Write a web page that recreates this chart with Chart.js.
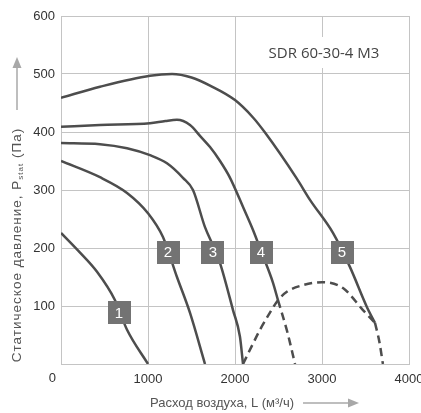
<!DOCTYPE html>
<html>
<head>
<meta charset="utf-8">
<script src="https://cdn.jsdelivr.net/npm/chart.js@4.4.1/dist/chart.umd.min.js"></script>
<style>
  html, body { margin: 0; padding: 0; background: #fff; }
  #wrap { width: 421px; height: 413px; }
</style>
</head>
<body>
<div id="wrap"><canvas id="chart" width="421" height="413"></canvas></div>
<script>
// fan curves, x = airflow (m3/h), y = static pressure (Pa)
var curve1X = [0, 200, 414, 621, 759, 1000];
var curve1Y = [226, 195, 159, 110, 59, 0];

var curve2X = [0, 448, 759, 1000, 1172, 1333, 1483, 1655];
var curve2Y = [350, 322, 295, 260, 219, 150, 88, 0];

var curve3X = [0, 448, 759, 1023, 1218, 1402, 1517, 1655, 1760, 1828, 1977, 2057, 2092];
var curve3Y = [381, 379, 372, 360, 346, 321, 300, 236, 200, 174, 93, 47, 0];

var curve4X = [0, 448, 1023, 1200, 1333, 1483, 1600, 1713, 1828, 1943, 2100, 2207, 2299, 2437, 2494];
var curve4Y = [409, 412, 415, 419, 421, 412, 393, 374, 350, 321, 268, 231, 195, 140, 110];
var curve4TailX = [2494, 2600, 2690];
var curve4TailY = [110, 56, 0];

var curve5X = [0, 448, 1023, 1276, 1500, 1713, 2000, 2207, 2345, 2709, 2862, 3126, 3322, 3517, 3609];
var curve5Y = [459, 478, 497, 500, 494, 480, 455, 425, 399, 320, 283, 226, 167, 98, 71];
var curve5TailX = [3609, 3660, 3700];
var curve5TailY = [71, 38, 0];

var limitX = [2092, 2200, 2287, 2400, 2494, 2600, 2782, 3000, 3241, 3471, 3609];
var limitY = [0, 33, 59, 88, 110, 125, 136, 141, 131, 93, 71];

var curveNames = ["1", "2", "3", "4", "5"];
var nameX = [667, 1230, 1747, 2299, 3230];
var nameY = [88, 193, 193, 193, 193];

var xTicks = [0, 1000, 2000, 3000, 4000];
var yTicks = [0, 100, 200, 300, 400, 500, 600];

var chartTitle = "SDR 60-30-4 M3";
var xTitle = "Расход воздуха, L (м³/ч)";
var yTitleMain = "Статическое давление, P";
var yTitleSub = "stat";
var yTitleEnd = " (Па)";

var lineColor = "#4d4d4d";
var gridColor = "#c4c4c4";
var textFont = "'Liberation Sans', Arial, sans-serif";

function pts(xs, ys) {
	return xs.map(function (x, i) { return { x: x, y: ys[i] }; });
}

function curve(xs, ys, dashed) {
	return {
		data : pts(xs, ys),
		borderColor : lineColor,
		borderWidth : 2.5,
		borderDash : dashed ? [8, 5] : [],
		pointRadius : 0,
		fill : false,
		cubicInterpolationMode : "monotone"
	};
}

function arrow(ctx, x1, y1, x2, y2) {
	var a = Math.atan2(y2 - y1, x2 - x1);
	ctx.save();
	ctx.strokeStyle = "#a8a8a8";
	ctx.fillStyle = "#a8a8a8";
	ctx.lineWidth = 1.5;
	ctx.beginPath();
	ctx.moveTo(x1, y1);
	ctx.lineTo(x2 - 8 * Math.cos(a), y2 - 8 * Math.sin(a));
	ctx.stroke();
	ctx.translate(x2, y2);
	ctx.rotate(a);
	ctx.beginPath();
	ctx.moveTo(0, 0);
	ctx.lineTo(-11, -4.5);
	ctx.lineTo(-11, 4.5);
	ctx.closePath();
	ctx.fill();
	ctx.restore();
}

var extras = {
	id : "extras",
	afterDatasetsDraw : function (chart) {
		var ctx = chart.ctx;
		var xs = chart.scales.x, ys = chart.scales.y;

		// curve number boxes
		ctx.save();
		ctx.font = "15px " + textFont;
		ctx.textAlign = "center";
		ctx.textBaseline = "middle";
		curveNames.forEach(function (n, i) {
			var px = xs.getPixelForValue(nameX[i]);
			var py = ys.getPixelForValue(nameY[i]);
			ctx.fillStyle = "#737373";
			ctx.fillRect(Math.round(px - 11.5), Math.round(py - 11.5), 23, 23);
			ctx.fillStyle = "#ffffff";
			ctx.fillText(n, px, py + 1);
		});
		ctx.restore();

		// model name with white backing
		ctx.save();
		ctx.font = "15px 'Open Sans', sans-serif";
		var tw = ctx.measureText(chartTitle).width;
		var tx = 324, ty = 54;
		ctx.fillStyle = "#ffffff";
		ctx.fillRect(tx - tw / 2 - 5, 37, tw + 10, 31);
		ctx.fillStyle = "#444444";
		ctx.textAlign = "center";
		ctx.textBaseline = "middle";
		ctx.fillText(chartTitle, tx, ty);
		ctx.restore();
	},
	afterDraw : function (chart) {
		var ctx = chart.ctx;
		var area = chart.chartArea;

		// shared origin label
		ctx.save();
		ctx.font = "13px " + textFont;
		ctx.fillStyle = "#333333";
		ctx.textAlign = "right";
		ctx.textBaseline = "middle";
		ctx.fillText("0", area.left - 5, area.bottom + 14);
		ctx.restore();

		// x axis title + arrow
		ctx.save();
		ctx.font = "13px " + textFont;
		ctx.fillStyle = "#555555";
		ctx.textAlign = "left";
		ctx.textBaseline = "middle";
		ctx.fillText(xTitle, 150, 403);
		var xw = ctx.measureText(xTitle).width;
		ctx.restore();
		arrow(ctx, 150 + xw + 9, 403, 359, 403);

		// y axis title with subscript
		ctx.save();
		ctx.translate(17, 245);
		ctx.rotate(-Math.PI / 2);
		ctx.fillStyle = "#555555";
		ctx.textBaseline = "middle";
		ctx.letterSpacing = "1px";
		ctx.font = "13.5px " + textFont;
		var w1 = ctx.measureText(yTitleMain).width;
		var w3 = ctx.measureText(yTitleEnd).width;
		ctx.font = "8px " + textFont;
		var w2 = ctx.measureText(yTitleSub).width;
		var start = -(w1 + w2 + w3) / 2;
		ctx.font = "13.5px " + textFont;
		ctx.fillText(yTitleMain, start, 0);
		ctx.font = "8px " + textFont;
		ctx.fillText(yTitleSub, start + w1, 4);
		ctx.font = "13.5px " + textFont;
		ctx.fillText(yTitleEnd, start + w1 + w2, 0);
		ctx.restore();
		arrow(ctx, 17, 110, 17, 57);
	}
};

var chart = new Chart(document.getElementById("chart"), {
	type : "line",
	data : {
		datasets : [
			curve(curve1X, curve1Y, false),
			curve(curve2X, curve2Y, false),
			curve(curve3X, curve3Y, false),
			curve(curve4X, curve4Y, false),
			curve(curve4TailX, curve4TailY, true),
			curve(curve5X, curve5Y, false),
			curve(curve5TailX, curve5TailY, true),
			curve(limitX, limitY, true)
		]
	},
	options : {
		responsive : false,
		animation : false,
		events : [],
		layout : { padding : { top : 16, left : 0, right : 0, bottom : 0 } },
		plugins : {
			legend : { display : false },
			tooltip : { enabled : false }
		},
		scales : {
			x : {
				type : "linear",
				min : 0,
				max : 4000,
				afterBuildTicks : function (s) { s.ticks = xTicks.map(function (v) { return { value : v }; }); },
				afterFit : function (s) { s.height = 49; s.paddingLeft = 0; s.paddingRight = 12; },
				ticks : {
					maxRotation : 0,
					padding : 8,
					color : "#333333",
					font : { family : textFont, size : 13 },
					callback : function (v) { return v === 0 ? "" : String(v); }
				},
				grid : { color : gridColor, lineWidth : 1, drawTicks : false },
				border : { color : gridColor }
			},
			y : {
				type : "linear",
				min : 0,
				max : 600,
				afterBuildTicks : function (s) { s.ticks = yTicks.map(function (v) { return { value : v }; }); },
				afterFit : function (s) { s.width = 61; s.paddingTop = 0; s.paddingBottom = 0; },
				ticks : {
					padding : 6,
					color : "#333333",
					font : { family : textFont, size : 13 },
					callback : function (v) { return v === 0 ? "" : String(v); }
				},
				grid : { color : gridColor, lineWidth : 1, drawTicks : false },
				border : { color : gridColor }
			}
		}
	},
	plugins : [extras]
});
</script>
</body>
</html>
